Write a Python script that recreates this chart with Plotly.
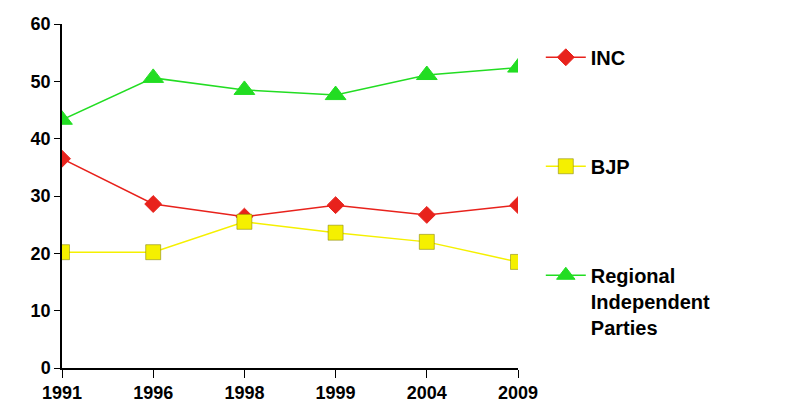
import plotly.graph_objects as go

years = ["1991", "1996", "1998", "1999", "2004", "2009"]
inc = [36.5, 28.6, 26.4, 28.4, 26.7, 28.4]
bjp = [20.2, 20.2, 25.5, 23.6, 22.0, 18.5]
regional = [43.3, 50.6, 48.5, 47.6, 51.1, 52.4]

fig = go.Figure()

series = [
    ("INC", inc, "#e8221c", "diamond", 13),
    ("BJP", bjp, "#f5f000", "square", 15),
    ("Regional<br>Independent<br>Parties", regional, "#22dd22", "triangle-up", 18),
]
for i, (name, vals, color, symbol, size) in enumerate(series):
    fig.add_trace(
        go.Scatter(
            x=years,
            y=vals,
            mode="lines+markers",
            name="<b>" + name.replace("<br>", "</b><br><b>") + "</b>",
            legendgroup=str(i),
            line={"color": color, "width": 1.5},
            marker={"symbol": symbol, "size": size, "color": color,
                    "line": {"width": 1, "color": "rgba(120,120,0,0.5)" if symbol == "square" else color}},
        )
    )

fig.update_layout(
    width=795,
    height=419,
    margin={"l": 54, "r": 285, "t": 16, "b": 59},
    plot_bgcolor="white",
    paper_bgcolor="white",
    font={"family": "Liberation Sans, Arial", "size": 18, "color": "black"},
    showlegend=True,
    legend={
        "x": 1.05, "y": 0.96, "xanchor": "left", "yanchor": "top",
        "tracegroupgap": 80, "valign": "top",
        "font": {"size": 20, "family": "Liberation Sans, Arial"},
        "itemwidth": 40,
    },
    xaxis={
        "showline": True, "linecolor": "black", "linewidth": 1.5,
        "ticks": "outside", "tickcolor": "black", "ticklen": 8,
        "showgrid": False, "range": [0, 5], "automargin": False,
        "tickprefix": "<b>", "ticksuffix": "</b>",
    },
    yaxis={
        "showline": True, "linecolor": "black", "linewidth": 1.5,
        "ticks": "outside", "tickcolor": "black", "ticklen": 6,
        "showgrid": False, "range": [0, 60], "dtick": 10, "zeroline": False,
        "automargin": False,
        "tickprefix": "<b>", "ticksuffix": "</b>",
    },
)

fig.write_html("out.html")
